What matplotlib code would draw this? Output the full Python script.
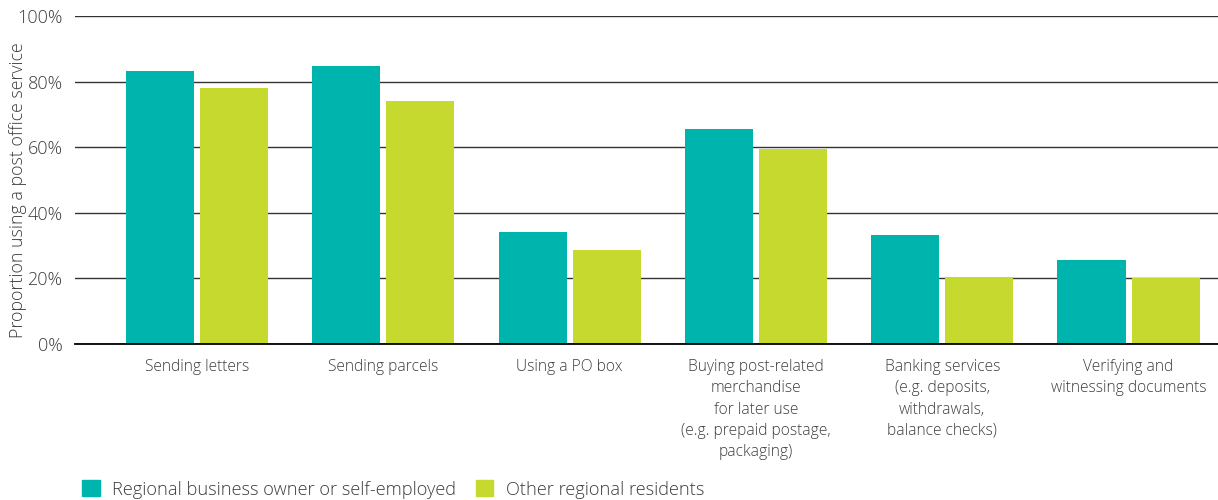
import matplotlib.pyplot as plt
from matplotlib.patches import Patch

categories = [
    "Sending letters",
    "Sending parcels",
    "Using a PO box",
    "Buying post-related\nmerchandise\nfor later use\n(e.g. prepaid postage,\npackaging)",
    "Banking services\n(e.g. deposits,\nwithdrawals,\nbalance checks)",
    "Verifying and\nwitnessing documents",
]
business = [83.2, 84.8, 34.1, 65.5, 33.2, 25.6]
residents = [78.0, 74.0, 28.7, 59.5, 20.4, 20.0]
series_names = ["Regional business owner or self-employed", "Other regional residents"]

teal = "#00b4ae"
lime = "#c6d92f"
text_col = "#3c3c3c"

plt.rcParams['font.family'] = ['Open Sans', 'DejaVu Sans']
plt.rcParams['font.weight'] = 'light'
plt.rcParams['axes.labelweight'] = 'light'

fig = plt.figure(figsize=(12.18, 5), dpi=100)
ax = fig.add_axes([0.0616, 0.312, 0.9384, 0.656])

x = list(range(len(categories)))
w = 0.365
off = 0.199
ax.bar([i - off for i in x], business, width=w, color=teal, zorder=3)
ax.bar([i + off for i in x], residents, width=w, color=lime, zorder=3)

ax.set_xlim(-0.655, 5.48)
ax.set_ylim(0, 100)
ax.set_yticks(range(0, 101, 20))
ax.set_yticklabels([f"{v}%" for v in range(0, 101, 20)], fontsize=13, color=text_col)
ax.set_xticks(x)
ax.set_xticklabels(categories, fontsize=11.2, color=text_col, va="top", linespacing=1.43)
ax.tick_params(axis="both", length=0)
ax.tick_params(axis="y", pad=9)
ax.tick_params(axis="x", pad=11)

ax.grid(axis="y", color="#333333", linewidth=1.0, zorder=0)
for s in ["top", "right", "left"]:
    ax.spines[s].set_visible(False)
ax.spines["bottom"].set_color("black")
ax.spines["bottom"].set_linewidth(1.3)
ax.spines["bottom"].set_zorder(4)

ax.set_ylabel("Proportion using a post office service", fontsize=12.8, color=text_col)
ax.yaxis.set_label_coords(-0.042, 0.47)

handles = [Patch(color=teal), Patch(color=lime)]
fig.legend(handles, series_names, loc="lower left", bbox_to_anchor=(0.054, -0.03),
           ncol=2, frameon=False, fontsize=13.15, handlelength=0.95, handleheight=0.95,
           handletextpad=0.7, columnspacing=1.05, labelcolor=text_col)

fig.savefig("out.png", dpi=100)
